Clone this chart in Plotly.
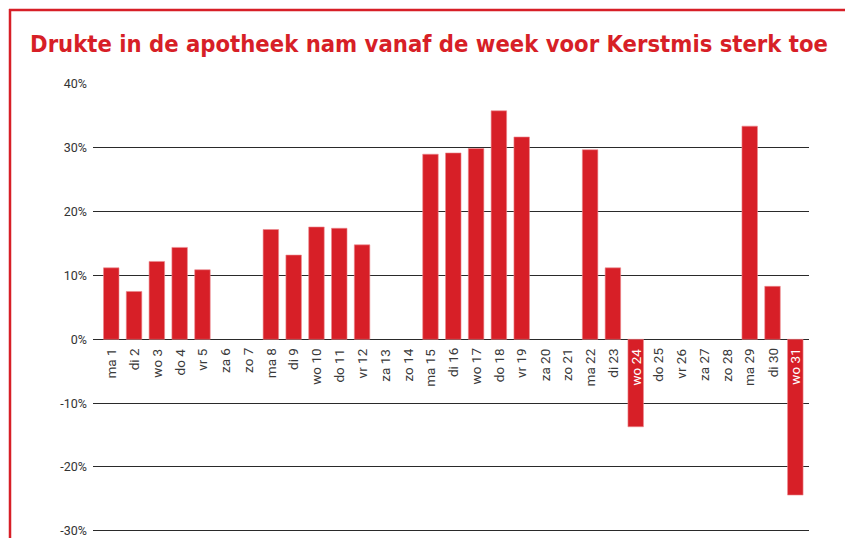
import plotly.graph_objects as go

days = ["ma 1", "di 2", "wo 3", "do 4", "vr 5", "za 6", "zo 7", "ma 8", "di 9", "wo 10",
        "do 11", "vr 12", "za 13", "zo 14", "ma 15", "di 16", "wo 17", "do 18", "vr 19",
        "za 20", "zo 21", "ma 22", "di 23", "wo 24", "do 25", "vr 26", "za 27", "zo 28",
        "ma 29", "di 30", "wo 31"]
values = [11.2, 7.5, 12.2, 14.4, 10.9, None, None, 17.2, 13.2, 17.6,
          17.4, 14.8, None, None, 29.0, 29.2, 29.9, 35.8, 31.7,
          None, None, 29.7, 11.2, -13.7, None, None, None, None,
          33.4, 8.3, -24.4]
y_ticks = [-30, -20, -10, 0, 10, 20, 30, 40]
y_ticklabels = ["-30%", "-20%", "-10%", "0%", "10%", "20%", "30%", "40%"]
title = "Drukte in de apotheek nam vanaf de week voor Kerstmis sterk toe"

RED = "#d71f27"
OFF = 8  # page body margin offset
W, H = 853 - OFF, 538 - OFF
ml, mr, mt, mb = 93 - OFF, 44, 84 - OFF, 4

fig = go.Figure()
fig.add_trace(go.Bar(
    x=days, y=values,
    marker=dict(color=RED, line=dict(color="#ec8a8e", width=0.6)),
    hoverinfo="x+y",
))

for d, v in zip(days, values):
    neg = v is not None and v < 0
    fig.add_annotation(
        x=d, y=0, xref="x", yref="y",
        text=d, showarrow=False, textangle=-90,
        xanchor="center", yanchor="top", yshift=-7,
        font=dict(family="Roboto", size=13.5, color="white" if neg else "#3a3a3a"),
    )

pw = W - ml - mr
ph = H - mt - mb
def px(xs):
    return (xs - OFF - ml) / pw
def py(ys):
    return (H - mb - (ys - OFF)) / ph

fig.add_shape(type="line", xref="paper", yref="paper",
              x0=px(10), x1=px(10), y0=py(9), y1=py(545),
              line=dict(color=RED, width=2.5))
fig.add_shape(type="line", xref="paper", yref="paper",
              x0=px(9), x1=px(860), y0=py(10), y1=py(10),
              line=dict(color=RED, width=2.5))

fig.update_layout(
    width=W, height=H,
    margin=dict(l=ml, r=mr, t=mt, b=mb, autoexpand=False),
    paper_bgcolor="white", plot_bgcolor="white",
    showlegend=False,
    bargap=0.32,
    title=dict(text="<b>" + title + "</b>", xref="container", yref="container",
               x=(30 - OFF) / W, xanchor="left", y=1 - (44 - OFF) / H, yanchor="middle",
               font=dict(family="DejaVu Sans Condensed", size=23.6, color=RED)),
    xaxis=dict(type="category", range=[-0.8, 30.6], showticklabels=False,
               showgrid=False, zeroline=False, showline=False, ticks="", automargin=False),
    yaxis=dict(range=[-30.5, 40], tickvals=y_ticks, ticktext=y_ticklabels,
               showgrid=True, gridcolor="#2a2a2a", gridwidth=1,
               zeroline=False, showline=False, ticks="", automargin=False,
               tickfont=dict(family="Roboto", size=12.5, color="#333333"),
               ticklabelstandoff=5, ticklabeloverflow="allow"),
)

fig.write_html("out.html")
